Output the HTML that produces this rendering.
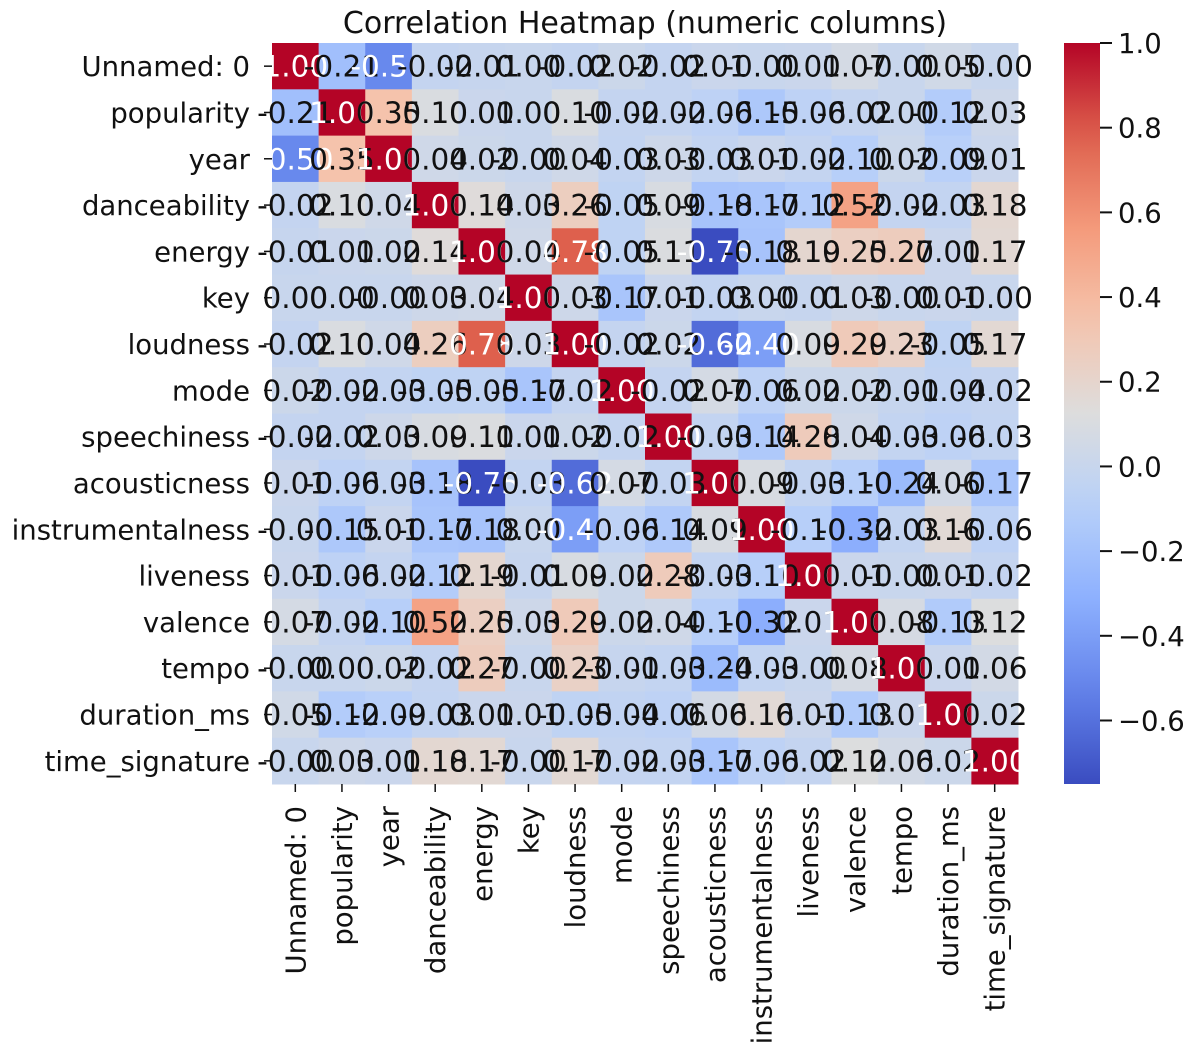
<!DOCTYPE html>
<html><head><meta charset="utf-8"><style>
html,body{margin:0;padding:0;background:#fff;width:1200px;height:1057px;overflow:hidden}
svg{font-family:"DejaVu Sans","Liberation Sans",sans-serif}
</style></head><body>
<svg id="chart" width="1200" height="1057" viewBox="0 0 1200 1057" xmlns="http://www.w3.org/2000/svg">
<text x="645" y="33" font-size="30" text-anchor="middle" fill="#111">Correlation Heatmap (numeric columns)</text>
<g id="cells"></g>
<g id="annots"></g>
<g id="ylabels"></g>
<g id="xlabels"></g>
<defs><linearGradient id="cbgrad" x1="0" y1="1" x2="0" y2="0"></linearGradient></defs>
<rect x="1064" y="43" width="36" height="741" fill="url(#cbgrad)"/>
<g id="cbticks"></g>
</svg>
<script>
const labels = ["Unnamed: 0","popularity","year","danceability","energy","key","loudness","mode","speechiness","acousticness","instrumentalness","liveness","valence","tempo","duration_ms","time_signature"];
const row0  = [1.00,-0.21,-0.50,-0.02,-0.01,0.00,-0.02,0.02,-0.02,0.01,-0.00,0.01,0.07,-0.00,0.05,-0.00];
const row1  = [-0.21,1.00,0.35,0.10,0.01,0.00,0.10,-0.02,-0.02,-0.06,-0.15,-0.06,-0.02,0.00,-0.12,0.03];
const row2  = [-0.50,0.35,1.00,0.04,0.02,-0.00,0.04,-0.03,0.03,-0.03,0.01,-0.02,-0.10,0.02,-0.09,0.01];
const row3  = [-0.02,0.10,0.04,1.00,0.14,0.03,0.26,-0.05,0.09,-0.18,-0.17,-0.12,0.52,-0.02,-0.03,0.18];
const row4  = [-0.01,0.01,0.02,0.14,1.00,0.04,0.78,-0.05,0.11,-0.75,-0.18,0.19,0.25,0.27,0.01,0.17];
const row5  = [0.00,0.00,-0.00,0.03,0.04,1.00,0.03,-0.17,0.01,-0.03,0.00,-0.01,0.03,-0.00,0.01,-0.00];
const row6  = [-0.02,0.10,0.04,0.26,0.78,0.03,1.00,-0.02,0.02,-0.62,-0.40,0.09,0.29,0.23,-0.05,0.17];
const row7  = [0.02,-0.02,-0.03,-0.05,-0.05,-0.17,-0.02,1.00,-0.02,0.07,-0.06,0.02,0.02,-0.01,-0.04,-0.02];
const row8  = [-0.02,-0.02,0.03,0.09,0.11,0.01,0.02,-0.02,1.00,-0.03,-0.14,0.28,0.04,-0.03,-0.06,-0.03];
const row9  = [0.01,-0.06,-0.03,-0.18,-0.75,-0.03,-0.62,0.07,-0.03,1.00,0.09,-0.03,-0.10,-0.24,0.06,-0.17];
const row10 = [-0.00,-0.15,0.01,-0.17,-0.18,0.00,-0.40,-0.06,-0.14,0.09,1.00,-0.10,-0.32,-0.03,0.16,-0.06];
const row11 = [0.01,-0.06,-0.02,-0.12,0.19,-0.01,0.09,0.02,0.28,-0.03,-0.10,1.00,0.01,-0.00,0.01,-0.02];
const row12 = [0.07,-0.02,-0.10,0.52,0.25,0.03,0.29,0.02,0.04,-0.10,-0.32,0.01,1.00,0.08,-0.13,0.12];
const row13 = [-0.00,0.00,0.02,-0.02,0.27,-0.00,0.23,-0.01,-0.03,-0.24,-0.03,-0.00,0.08,1.00,0.01,0.06];
const row14 = [0.05,-0.12,-0.09,-0.03,0.01,0.01,-0.05,-0.04,-0.06,0.06,0.16,0.01,-0.13,0.01,1.00,0.02];
const row15 = [-0.00,0.03,0.01,0.18,0.17,-0.00,0.17,-0.02,-0.03,-0.17,-0.06,-0.02,0.12,0.06,0.02,1.00];
const matrix = [row0,row1,row2,row3,row4,row5,row6,row7,row8,row9,row10,row11,row12,row13,row14,row15];
const cbTicks = [1.0,0.8,0.6,0.4,0.2,0.0,-0.2,-0.4,-0.6];

const NS="http://www.w3.org/2000/svg";
const X0=272,X1=1018,Y0=43,Y1=784;
const n=labels.length, cw=(X1-X0)/n, ch=(Y1-Y0)/n;
const vmax=1.0, vmin=Math.min(...matrix.flat());
const stops=[[0,[58,76,192]],[0.125,[98,130,234]],[0.25,[141,176,254]],[0.375,[184,208,249]],[0.5,[221,221,221]],[0.625,[245,196,173]],[0.75,[244,154,123]],[0.875,[222,96,77]],[1,[180,4,38]]];
function cmap(t){t=Math.max(0,Math.min(1,t));for(let i=1;i<stops.length;i++){if(t<=stops[i][0]){const a=stops[i-1],b=stops[i],f=(t-a[0])/(b[0]-a[0]);return a[1].map((c,k)=>Math.round(c+(b[1][k]-c)*f));}}return stops[stops.length-1][1];}
function norm(v){return (v-vmin)/(vmax-vmin);}
function lum(c){const l=c.map(x=>{x/=255;return x<=0.03928?x/12.92:Math.pow((x+0.055)/1.055,2.4)});return 0.2126*l[0]+0.7152*l[1]+0.0722*l[2];}
function mk(tag,attrs,parent){const e=document.createElementNS(NS,tag);for(const k in attrs)e.setAttribute(k,attrs[k]);parent.appendChild(e);return e;}
const cells=document.getElementById('cells'),annots=document.getElementById('annots');
for(let r=0;r<n;r++)for(let c=0;c<n;c++){
  const v=matrix[r][c],col=cmap(norm(v));
  const rc=mk('rect',{x:X0+c*cw,y:Y0+r*ch,width:cw+0.5,height:ch+0.5,fill:`rgb(${col})`},cells);
  
  
}
for(let r=0;r<n;r++)for(let c=0;c<n;c++){
  const v=matrix[r][c],col=cmap(norm(v));
  const t=mk('text',{x:X0+(c+0.5)*cw,y:Y0+(r+0.5)*ch+10.5,'font-size':29.5,'text-anchor':'middle',fill:lum(col)>0.408?'#111':'#ffffff'},annots);
  
  
  t.textContent=(v<0||Object.is(v,-0)?'-':'')+Math.abs(v).toFixed(2);
}
const yl=document.getElementById('ylabels'),xl=document.getElementById('xlabels');
labels.forEach((lab,i)=>{
  const y=Y0+(i+0.5)*ch;
  mk('line',{x1:X0-8,x2:X0,y1:y,y2:y,stroke:'#111','stroke-width':1.5},yl);
  const t=mk('text',{x:X0-22,y:y+10,'font-size':27.5,'text-anchor':'end',fill:'#111'},yl);
  
  
  t.textContent=lab;
  const x=X0+(i+0.5)*cw;
  mk('line',{x1:x,x2:x,y1:Y1,y2:Y1+8,stroke:'#111','stroke-width':1.5},xl);
  const tx=mk('text',{x:0,y:0,'font-size':27.5,'text-anchor':'end',fill:'#111',transform:`translate(${x+10},${Y1+22}) rotate(-90)`},xl);
  
  
  tx.textContent=lab;
});
const grad=document.getElementById('cbgrad');
for(let i=0;i<=20;i++){const col=cmap(i/20);mk('stop',{offset:(i*5)+'%','stop-color':`rgb(${col})`},grad);}
const cbt=document.getElementById('cbticks');
cbTicks.forEach(v=>{
  const y=Y1-(v-vmin)/(vmax-vmin)*(Y1-Y0);
  mk('line',{x1:1100,x2:1112,y1:y,y2:y,stroke:'#111','stroke-width':2},cbt);
  const t=mk('text',{x:1118,y:y+10,'font-size':27.5,fill:'#111'},cbt);
  
  
  t.textContent=(v<0?'\u2212':'')+Math.abs(v).toFixed(1);
});
</script>
</body></html>
